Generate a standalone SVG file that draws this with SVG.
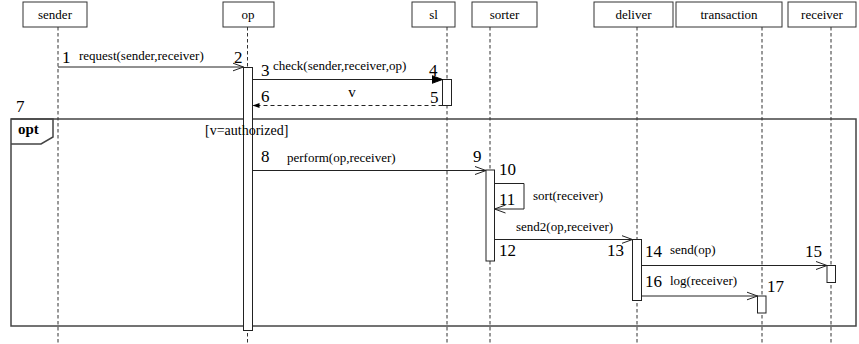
<svg xmlns="http://www.w3.org/2000/svg" width="859" height="344" viewBox="0 0 859 344">
<style>
text{font-family:"Liberation Serif","Times New Roman",serif;fill:#000}
.hd{font-size:13px;text-anchor:middle}
.lbl{font-size:13px}
.num{font-size:17px}
.box{fill:#fff;stroke:#333;stroke-width:1}
.life{stroke:#333;stroke-width:1;stroke-dasharray:3.5,2.5;fill:none}
.act{fill:#fff;stroke:#222;stroke-width:1}
.msg{stroke:#222;stroke-width:1;fill:none}
.ret{stroke:#222;stroke-width:1;fill:none;stroke-dasharray:4,3}
.frame{fill:none;stroke:#444;stroke-width:1.5}
</style>
<defs>
<marker id="open" markerUnits="userSpaceOnUse" markerWidth="14" markerHeight="12" refX="11" refY="5" orient="auto">
<path d="M0,1 L11,5 L0,9" fill="none" stroke="#222" stroke-width="1"/>
</marker>
<marker id="solid" markerUnits="userSpaceOnUse" markerWidth="14" markerHeight="12" refX="11" refY="5" orient="auto">
<path d="M0,1 L11,5 L0,9 Z" fill="#000" stroke="#000" stroke-width="1"/>
</marker>
<marker id="small" markerUnits="userSpaceOnUse" markerWidth="10" markerHeight="8" refX="7" refY="3" orient="auto">
<path d="M0,0.5 L7,3 L0,5.5 Z" fill="#000" stroke="none"/>
</marker>
</defs>
<rect width="859" height="344" fill="#fff"/>

<g id="frame-opt">
<rect class="frame" x="11" y="119" width="845" height="207"/>
<path class="frame" d="M11,119 H53 V137 L41,144 H11"/>
<text x="18" y="134" style="font-size:15px;font-weight:bold">opt</text>
<text class="num" x="16" y="112">7</text>
</g>

<g id="sender">
<rect class="box" x="23" y="2" width="64" height="25"/>
<text class="hd" x="55" y="19">sender</text>
<line class="life" x1="58" y1="27" x2="58" y2="344"/>
</g>
<g id="op">
<rect class="box" x="223" y="2" width="51" height="25"/>
<text class="hd" x="248" y="19">op</text>
<line class="life" x1="247.5" y1="27" x2="247.5" y2="344"/>
<rect class="act" x="243.5" y="67.5" width="9" height="263"/>
</g>
<g id="sl">
<rect class="box" x="412" y="2" width="43" height="25"/>
<text class="hd" x="433.5" y="19">sl</text>
<line class="life" x1="447" y1="27" x2="447" y2="344"/>
<rect class="act" x="442.5" y="79.5" width="9" height="26"/>
</g>
<g id="sorter">
<rect class="box" x="472" y="2" width="65" height="25"/>
<text class="hd" x="504.5" y="19">sorter</text>
<line class="life" x1="490" y1="27" x2="490" y2="344"/>
<rect class="act" x="486" y="170" width="8.5" height="91"/>
</g>
<g id="deliver">
<rect class="box" x="594" y="2" width="79" height="25"/>
<text class="hd" x="633.5" y="19">deliver</text>
<line class="life" x1="637" y1="27" x2="637" y2="344"/>
<rect class="act" x="632.5" y="239.5" width="9" height="61"/>
</g>
<g id="transaction">
<rect class="box" x="676" y="2" width="106" height="25"/>
<text class="hd" x="729" y="19">transaction</text>
<line class="life" x1="762" y1="27" x2="762" y2="344"/>
<rect class="act" x="757.5" y="296" width="8.5" height="17"/>
</g>
<g id="receiver">
<rect class="box" x="788" y="2" width="68" height="25"/>
<text class="hd" x="822" y="19">receiver</text>
<line class="life" x1="831" y1="27" x2="831" y2="344"/>
<rect class="act" x="827" y="265.5" width="8.5" height="17"/>
</g>

<g id="connectors">
<line class="msg" x1="58" y1="67" x2="243.5" y2="67" marker-end="url(#open)"/>
<line class="msg" x1="252.5" y1="79.5" x2="442.5" y2="79.5" marker-end="url(#solid)"/>
<line class="ret" x1="442.5" y1="105.5" x2="252.5" y2="105.5" marker-end="url(#small)"/>
<line class="msg" x1="252.5" y1="170.5" x2="486" y2="170.5" marker-end="url(#open)"/>
<path class="msg" d="M494.5,183.5 H524 V209 H494.5" marker-end="url(#open)"/>
<line class="msg" x1="494.5" y1="239.5" x2="632.5" y2="239.5" marker-end="url(#open)"/>
<line class="msg" x1="641.5" y1="265.5" x2="827" y2="265.5" marker-end="url(#open)"/>
<line class="msg" x1="641.5" y1="296" x2="757.5" y2="296" marker-end="url(#open)"/>
</g>

<g id="labels">
<text class="num" x="62" y="63">1</text>
<text class="lbl" x="79" y="60">request(sender,receiver)</text>
<text class="num" x="234" y="63">2</text>
<text class="num" x="261" y="76">3</text>
<text class="lbl" x="273" y="70">check(sender,receiver,op)</text>
<text class="num" x="429" y="76">4</text>
<text class="num" x="261" y="102">6</text>
<text class="lbl" x="352" y="97" style="text-anchor:middle;font-size:15px">v</text>
<text class="num" x="430" y="103">5</text>
<text class="lbl" x="205" y="135" style="font-size:14px">[v=authorized]</text>
<text class="num" x="261" y="162">8</text>
<text class="lbl" x="287" y="162">perform(op,receiver)</text>
<text class="num" x="473" y="162">9</text>
<text class="num" x="499" y="175">10</text>
<text class="num" x="499" y="205">11</text>
<text class="lbl" x="533" y="200">sort(receiver)</text>
<text class="lbl" x="516" y="231">send2(op,receiver)</text>
<text class="num" x="499" y="256">12</text>
<text class="num" x="607" y="256">13</text>
<text class="num" x="645" y="257">14</text>
<text class="lbl" x="670" y="254">send(op)</text>
<text class="num" x="805" y="257">15</text>
<text class="num" x="645" y="287">16</text>
<text class="lbl" x="670" y="285">log(receiver)</text>
<text class="num" x="767" y="292">17</text>
</g>
</svg>
